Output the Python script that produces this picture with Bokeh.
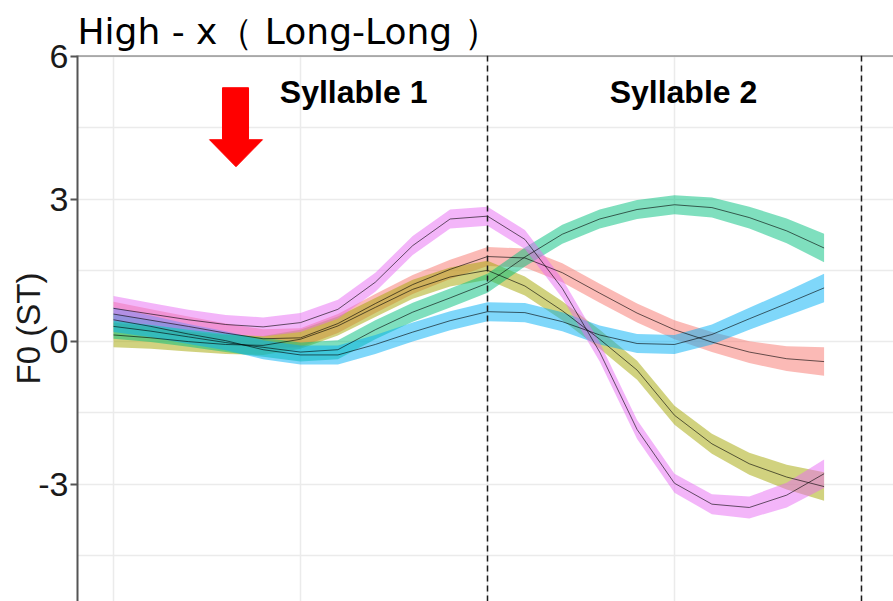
from bokeh.plotting import figure
from bokeh.layouts import column
from bokeh.models import FixedTicker, Span, Label, Range1d, Grid, ColumnDataSource
from bokeh.embed import file_html
from bokeh.resources import INLINE

# normalized time: syllable 1 = 0..1, syllable 2 = 1..2
time = [0.0, 0.1, 0.2, 0.3, 0.4, 0.5, 0.6, 0.7, 0.8, 0.9,
        1.0, 1.1, 1.2, 1.3, 1.4, 1.5, 1.6, 1.7, 1.8, 1.9]

# mean F0 (ST) per group
f0_red = [0.58, 0.45, 0.32, 0.18, 0.06, 0.08, 0.38, 0.80, 1.20, 1.52,
          1.79, 1.76, 1.45, 1.02, 0.60, 0.25, -0.01, -0.22, -0.36, -0.42]
f0_olive = [0.14, 0.08, 0.00, -0.06, -0.08, 0.05, 0.33, 0.72, 1.10, 1.36,
            1.50, 1.17, 0.65, 0.05, -0.60, -1.55, -2.15, -2.57, -2.85, -3.05]
f0_green = [0.32, 0.22, 0.10, -0.02, -0.12, -0.22, -0.17, 0.25, 0.62, 0.92,
            1.23, 1.78, 2.26, 2.58, 2.78, 2.88, 2.82, 2.61, 2.33, 1.97]
f0_blue = [0.46, 0.32, 0.16, 0.02, -0.17, -0.28, -0.28, -0.06, 0.20, 0.44,
           0.63, 0.61, 0.42, 0.14, -0.04, -0.06, 0.15, 0.48, 0.80, 1.13]
f0_pink = [0.70, 0.58, 0.46, 0.36, 0.31, 0.40, 0.68, 1.25, 2.02, 2.58,
           2.64, 2.15, 1.12, -0.22, -1.85, -2.98, -3.42, -3.49, -3.23, -2.78]

# confidence half-width (ST)
ci_half = [0.26, 0.23, 0.21, 0.20, 0.20, 0.20, 0.20, 0.20, 0.20, 0.20,
           0.20, 0.20, 0.20, 0.20, 0.20, 0.20, 0.21, 0.23, 0.26, 0.30]

series = [
    ("group 1", f0_red, "#F8766D"),
    ("group 2", f0_olive, "#A3A500"),
    ("group 3", f0_green, "#00BF7D"),
    ("group 4", f0_blue, "#00B0F6"),
    ("group 5", f0_pink, "#E76BF3"),
]

y_ticks = [-3, 0, 3, 6]
y_tick_labels = {-3: "-3", 0: "0", 3: "3", 6: "6"}
y_minor = [-4.5, -1.5, 1.5, 4.5]
x_grid = [0, 0.5, 1, 1.5, 2]
syllable_bounds = [1, 2]
syllable_labels = ["Syllable 1", "Syllable 2"]
syllable_label_x = [0.642, 1.524]
syllable_label_y = 5.26

# red arrow annotation (data units)
arrow_x = [0.2914, 0.361, 0.361, 0.3984, 0.3275, 0.2567, 0.2914]
arrow_y = [5.342, 5.342, 4.248, 4.248, 3.680, 4.248, 4.248]

X0, X1 = -0.0963, 2.0856
Y0, Y1 = -5.468, 6.02

# --- sliver of the facet panel above ---
top = figure(width=893, height=4, x_range=Range1d(X0, X1), y_range=Range1d(0, 4),
             output_backend="svg", toolbar_location=None,
             x_axis_location=None, y_axis_location=None,
             min_border_left=77, min_border_right=0,
             min_border_top=0, min_border_bottom=0)
top.outline_line_color = None
top.xgrid.visible = False
top.ygrid.visible = False
top.segment(x0=[X0], y0=[1.2], x1=[X1], y1=[1.2], line_color="#333333", line_width=2)
top.segment(x0=[X0 + 0.002], y0=[1], x1=[X0 + 0.002], y1=[4], line_color="#333333", line_width=2)
top.segment(x0=syllable_bounds, y0=[1, 1], x1=syllable_bounds, y1=[4, 4],
            line_color="#333333", line_width=1.5)
top.segment(x0=[0], y0=[0], x1=[0], y1=[1], line_color="#777777", line_width=2)

# --- main panel ---
p = figure(width=893, height=597,
           x_range=Range1d(X0, X1), y_range=Range1d(Y0, Y1),
           output_backend="svg", toolbar_location=None,
           x_axis_location=None,
           min_border_left=77, min_border_top=51,
           min_border_right=0, min_border_bottom=0)

p.background_fill_color = "white"
p.outline_line_color = None

# grids
p.xgrid.visible = False
p.add_layout(Grid(dimension=0, ticker=FixedTicker(ticks=x_grid),
                  grid_line_color="#EBEBEB", grid_line_width=1.5))
p.yaxis.ticker = FixedTicker(ticks=y_ticks, minor_ticks=y_minor)
p.ygrid.grid_line_color = "#EBEBEB"
p.ygrid.grid_line_width = 1.5
p.ygrid.minor_grid_line_color = "#EBEBEB"
p.ygrid.minor_grid_line_width = 1.5

# y axis
ya = p.yaxis[0]
ya.axis_line_color = "#555555"
ya.axis_line_width = 2
ya.major_tick_line_color = "#555555"
ya.major_tick_line_width = 2
ya.major_tick_out = 7
ya.major_tick_in = 0
ya.minor_tick_line_color = None
ya.major_label_overrides = y_tick_labels
ya.major_label_text_font = "Liberation Sans"
ya.major_label_text_font_size = "34px"
ya.major_label_text_color = "#1a1a1a"
ya.major_label_standoff = 2
ya.axis_label = "F0 (ST)"
ya.axis_label_text_font = "Liberation Sans"
ya.axis_label_text_font_size = "33px"
ya.axis_label_text_font_style = "normal"
ya.axis_label_text_color = "#1a1a1a"
ya.axis_label_standoff = -12

# title
p.title.text = "High - x（ Long-Long ）"
p.title.text_font = "DejaVu Sans"
p.title.text_font_size = "36px"
p.title.text_font_style = "normal"
p.title.text_color = "#000000"
p.title.align = "left"
p.title.standoff = 7
p.title.offset = 0

# top border of the panel
p.add_layout(Span(location=Y1, dimension="width", line_color="#666666", line_width=2))

# ribbons + mean lines
for name, vals, col in series:
    lo = [v - c for v, c in zip(vals, ci_half)]
    hi = [v + c for v, c in zip(vals, ci_half)]
    src = ColumnDataSource(dict(t=time, y=vals, lo=lo, hi=hi))
    p.varea(x="t", y1="lo", y2="hi", source=src, fill_color=col, fill_alpha=0.5)
for name, vals, col in series:
    src = ColumnDataSource(dict(t=time, y=vals))
    p.line(x="t", y="y", source=src, line_color="black", line_alpha=0.6, line_width=1)

# syllable boundaries
for b in syllable_bounds:
    p.add_layout(Span(location=b, dimension="height", line_color="#1a1a1a",
                      line_dash="6 4", line_width=1.5))

for lx, lt in zip(syllable_label_x, syllable_labels):
    p.add_layout(Label(x=lx, y=syllable_label_y, text=lt, text_align="center",
                       text_baseline="alphabetic", text_font="Liberation Sans",
                       text_font_style="bold", text_font_size="32px",
                       text_color="#000000"))

p.patch(arrow_x, arrow_y, fill_color="#FF0000", line_color="#FF0000")

layout = column(top, p, spacing=0)
open("out.html", "w").write(file_html(layout, INLINE))
